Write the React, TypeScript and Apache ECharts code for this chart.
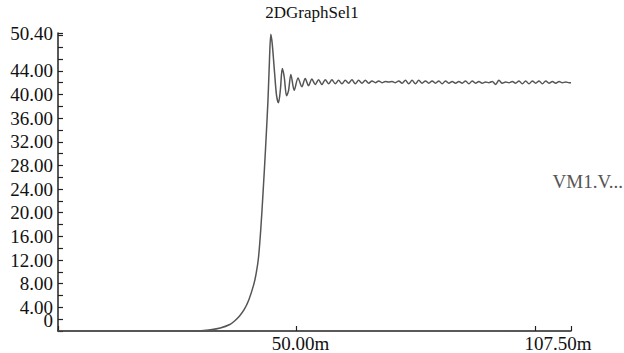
import React, { useEffect, useRef } from "react";
import * as echarts from "echarts";

const chartTitle = "2DGraphSel1";
const seriesName = "VM1.V...";

// time in ms
const timeMs = [
  0, 28, 30, 32, 34, 36, 37, 38, 39, 40, 41, 41.5, 42, 42.5, 43, 43.5, 44, 44.3, 44.6, 44.9, 45.4, 45.8, 46.2,
  46.6, 47.0, 47.4, 47.9, 48.3, 48.8, 49.5, 50.3,
  51.1, 51.8, 52.5, 53.2, 53.9, 54.6, 55.3, 56.0, 56.7, 57.4, 58.1, 58.8, 59.5, 60.2, 60.9, 61.6,
  62.3, 63.0, 63.7, 64.4, 65.1, 65.8, 66.5, 67.2, 67.9, 68.6, 69.3, 70.0, 70.7, 71.4, 72.1, 72.8,
  73.5, 74.2, 74.9, 75.6, 76.3, 77.0, 77.7, 78.4, 79.1, 79.8, 80.5, 81.2, 81.9, 82.6, 83.3, 84.0,
  84.7, 85.4, 86.1, 86.8, 87.5, 88.2, 88.9, 89.6, 90.3, 91.0, 91.7, 92.4, 93.1, 93.8, 94.5, 95.2,
  95.9, 96.6, 97.3, 98.0, 98.7, 99.4, 100.1, 100.8, 101.5, 102.2, 102.9, 103.6, 104.3, 105.0, 105.7,
  106.4, 107.1, 107.5,
];

// voltage values
const voltage = [
  0, 0, 0.05, 0.2, 0.5, 1.1, 1.7, 2.5, 3.6, 5.3, 7.8, 9.6, 12.3, 17.3, 23.8, 31.0, 39.0, 45.5, 50.2, 48.5, 43.5, 39.8, 38.6,
  40.8, 44.4, 43.0, 39.8, 40.6, 43.4, 40.7, 42.8,
  41.3, 42.7, 41.5, 42.6, 41.7, 42.5, 41.7, 42.5, 41.8, 42.5, 41.8, 42.4, 41.8, 42.4, 41.9, 42.5,
  41.8, 42.4, 41.9, 42.4, 41.9, 42.3, 42.0, 42.3, 42.0, 42.2, 42.1, 42.2, 42.0, 42.3, 41.9, 42.4,
  41.8, 42.4, 41.8, 42.4, 41.9, 42.3, 41.9, 42.3, 41.9, 42.3, 41.8, 42.3, 41.9, 42.2, 41.9, 42.2,
  41.9, 42.3, 41.8, 42.3, 41.9, 42.2, 41.9, 42.1, 42.0, 42.2, 41.7, 42.4, 41.9, 42.1, 42.0, 42.2,
  41.9, 42.3, 41.8, 42.3, 41.8, 42.3, 41.9, 42.3, 41.8, 42.3, 41.9, 42.2, 41.9, 42.2, 42.0,
  42.1, 42.0, 42.0,
];

const xMax = 107.5;
const yMax = 50.4;
const yLabeled = [0, 4, 8, 12, 16, 20, 24, 28, 32, 36, 40, 44, 50.4];

const FONT = "Liberation Serif";
const FS = 19;

export default function App() {
  const ref = useRef<HTMLDivElement>(null);
  useEffect(() => {
    if (!ref.current) return;
    const chart = echarts.init(ref.current, undefined, { renderer: "svg" });
    const data = timeMs.map((t, i) => [t, voltage[i]]);
    chart.setOption({
      animation: false,
      backgroundColor: "#ffffff",
      textStyle: { fontFamily: FONT },
      title: {
        text: chartTitle,
        left: "center",
        top: -1,
        textStyle: { fontFamily: FONT, fontSize: 17, fontWeight: "normal", color: "#111" },
      },
      legend: {
        data: [{ name: seriesName, icon: "none" }],
        right: 1,
        top: 172,
        itemWidth: 0,
        itemGap: 0,
        padding: 0,
        selectedMode: false,
        textStyle: { fontFamily: FONT, fontSize: FS, color: "#555", padding: 0 },
      },
      grid: { left: 58, right: 53, top: 33, bottom: 20 },
      xAxis: {
        type: "value",
        min: 0,
        max: xMax,
        interval: 50,
        splitLine: { show: false },
        axisLine: { lineStyle: { color: "#222", width: 1.5 } },
        axisTick: { inside: true, length: 5, lineStyle: { color: "#222", width: 1.2 } },
        axisLabel: {
          showMaxLabel: true,
          margin: 3,
          fontFamily: FONT,
          fontSize: FS,
          color: "#111",
          formatter: (v: number) => {
            if (v === 50) return "{a|" + v.toFixed(2) + "m}";
            if (v === xMax) return "{b|" + v.toFixed(2) + "m}";
            return "";
          },
          rich: {
            a: { fontFamily: FONT, fontSize: FS, color: "#111", padding: [0, 0, 0, 8] },
            b: { fontFamily: FONT, fontSize: FS, color: "#111", padding: [0, 26, 0, 0] },
          },
        },
      },
      yAxis: {
        type: "value",
        min: 0,
        max: yMax,
        interval: 2,
        splitLine: { show: false },
        axisLine: { lineStyle: { color: "#222", width: 1.5 } },
        axisTick: { inside: true, length: 5, lineStyle: { color: "#222", width: 1.2 } },
        axisLabel: {
          showMaxLabel: true,
          margin: 5,
          fontFamily: FONT,
          fontSize: FS,
          lineHeight: 12,
          color: "#111",
          formatter: (v: number) => {
            const hit = yLabeled.find((y) => Math.abs(y - v) < 1e-6);
            if (hit === undefined) return "";
            if (hit === 0) return "{z|0}";
            return "{n|" + hit.toFixed(2) + "}";
          },
          rich: {
            n: { fontFamily: FONT, fontSize: FS, lineHeight: 12, color: "#111" },
            z: { fontFamily: FONT, fontSize: FS, lineHeight: 12, color: "#111", padding: [0, 0, 22, 0] },
          },
        },
      },
      series: [
        {
          name: seriesName,
          type: "line",
          data,
          showSymbol: false,
          smooth: 0.3,
          lineStyle: { color: "#555", width: 1.5 },
          itemStyle: { color: "#555" },
        },
      ],
    });
    return () => chart.dispose();
  }, []);
  return <div ref={ref} style={{ width: 624, height: 353, position: "absolute", left: 0, top: 0 }} />;
}
